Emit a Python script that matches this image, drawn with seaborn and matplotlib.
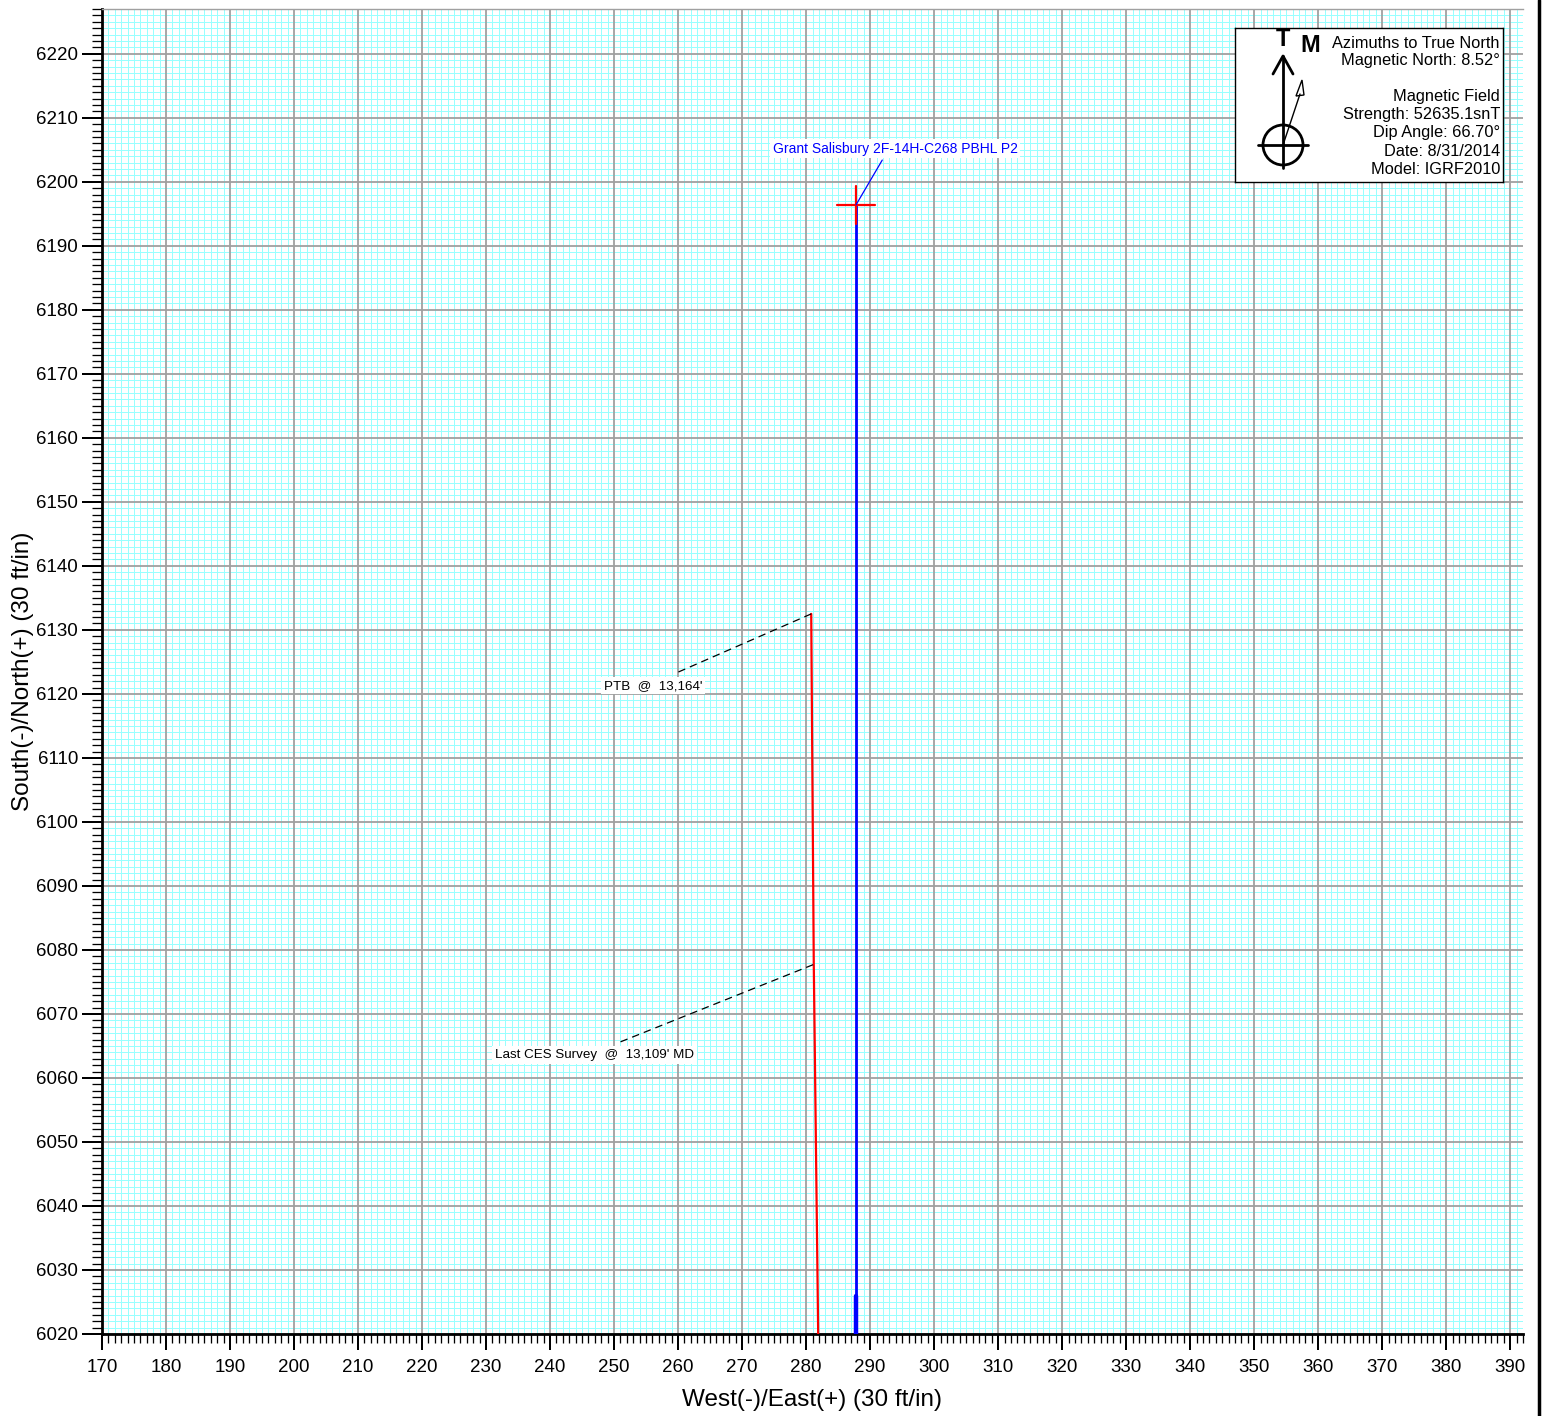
import matplotlib
matplotlib.use("Agg")
import matplotlib.pyplot as plt
import numpy as np
import pandas as pd
import seaborn as sns
from matplotlib.patches import Circle, Polygon
from matplotlib.lines import Line2D
from matplotlib.ticker import MultipleLocator

# Plan view: well paths (East, North) in ft
ACTUAL_E = [280.8, 281.2, 281.9]
ACTUAL_N = [6132.5, 6077.7, 6019.0]
PLAN_E = [287.8, 287.8]
PLAN_N = [6196.4, 6019.0]
PLAN_TAIL_N = [6026.0, 6019.0]
TARGET_E, TARGET_N = 287.8, 6196.4
TARGET_NAME = "Grant Salisbury 2F-14H-C268 PBHL P2"

# annotations: text, label centre (E, N), leader from (E, N) to (E, N)
NOTES = [
    ("PTB  @  13,164'", (256.1, 6121.3), (280.8, 6132.5), (260.0, 6123.4)),
    ("Last CES Survey  @  13,109' MD", (246.9, 6063.6), (281.1, 6077.7), (250.9, 6065.6)),
]

LEGEND_LINES = ["Azimuths to True North", "Magnetic North: 8.52°", "",
                "Magnetic Field", "Strength: 52635.1snT", "Dip Angle: 66.70°",
                "Date: 8/31/2014", "Model: IGRF2010"]

W, H = 1543, 1416
PX = 72 / 100  # points per pixel
sns.set_style("white")
plt.rcParams["font.family"] = ["Liberation Sans", "DejaVu Sans"]
for k in ("text.color", "axes.labelcolor", "xtick.color", "ytick.color"):
    plt.rcParams[k] = "black"

fig = plt.figure(figsize=(W / 100, H / 100), dpi=100)
ax = fig.add_axes([102 / W, 1 - 1334 / H, 1421 / W, 1325 / H])

act = pd.DataFrame({"e": ACTUAL_E, "n": ACTUAL_N})
plan = pd.DataFrame({"e": PLAN_E, "n": PLAN_N})
tail = pd.DataFrame({"e": PLAN_E, "n": PLAN_TAIL_N})
sns.lineplot(data=act, x="e", y="n", sort=False, estimator=None, color="red", lw=1.6, ax=ax, zorder=5)
sns.lineplot(data=plan, x="e", y="n", sort=False, estimator=None, color="blue", lw=2.0, ax=ax, zorder=6)
sns.lineplot(data=tail, x="e", y="n", sort=False, estimator=None, color="blue", lw=3.2, ax=ax, zorder=6)

# target cross
ax.plot([TARGET_E - 3, TARGET_E + 3], [TARGET_N, TARGET_N], color="red", lw=1.6, zorder=7)
ax.plot([TARGET_E, TARGET_E], [TARGET_N - 3, TARGET_N + 3], color="red", lw=1.6, zorder=7)
ax.plot([TARGET_E, 291.9], [TARGET_N, 6203.4], color="blue", lw=0.9, zorder=7)
ax.text(293.9, 6205.2, TARGET_NAME, color="blue", fontsize=10, ha="center", va="center",
        bbox=dict(facecolor="white", edgecolor="none", pad=2), zorder=8)

for txt, (tx, ty), p0, p1 in NOTES:
    ax.plot([p0[0], p1[0]], [p0[1], p1[1]], color="black", lw=0.9, ls=(0, (6, 4)), zorder=7)
    ax.text(tx, ty, txt, color="black", fontsize=9.6, ha="center", va="center",
            bbox=dict(facecolor="white", edgecolor="none", pad=2), zorder=8)

ax.set_xlim(170, 392)
ax.set_ylim(6020, 6227)
ax.xaxis.set_major_locator(MultipleLocator(10))
ax.xaxis.set_minor_locator(MultipleLocator(1))
ax.yaxis.set_major_locator(MultipleLocator(10))
ax.yaxis.set_minor_locator(MultipleLocator(1))
ax.grid(which="minor", color="#99ffff", lw=0.72, antialiased=False)
ax.grid(which="major", visible=False)
ax.set_axisbelow(True)
# gray 10 ft grid drawn above the cyan 1 ft grid
for e in np.arange(170, 392, 10):
    ax.axvline(e, color="#a0a0a0", lw=1.3, zorder=0.8)
for n in np.arange(6020, 6227, 10):
    ax.axhline(n, color="#a0a0a0", lw=1.3, zorder=0.8)

ax.tick_params(axis="x", which="major", length=16 * PX, width=2 * PX, labelsize=13.5,
               pad=9 * PX, direction="out", bottom=True)
ax.tick_params(axis="x", which="minor", length=9 * PX, width=1.3 * PX, direction="out", bottom=True)
ax.tick_params(axis="y", which="major", length=20 * PX, width=2 * PX, labelsize=13.5,
               pad=4 * PX, direction="out", left=True)
ax.tick_params(axis="y", which="minor", length=10 * PX, width=1.3 * PX, direction="out", left=True)
for s in ("left", "bottom"):
    ax.spines[s].set_color("black")
    ax.spines[s].set_linewidth(2)
ax.spines["right"].set_visible(False)
ax.spines["top"].set_color("#a0a0a0")
ax.spines["top"].set_linewidth(1)

ax.set_xlabel("West(-)/East(+) (30 ft/in)", fontsize=17.5)
ax.set_ylabel("South(-)/North(+) (30 ft/in)", fontsize=17.5)
ax.xaxis.set_label_coords(0.5, (1334 - 1389) / 1325)
ax.yaxis.set_label_coords((34 - 102) / 1421, 0.5)

# north arrow / magnetic info box, drawn in local pixel units
lg = fig.add_axes([1235 / W, 1 - 182 / H, 268 / W, 154 / H])
lg.set_xlim(0, 268)
lg.set_ylim(154, 0)
lg.set_xticks([])
lg.set_yticks([])
lg.set_facecolor("white")
for s in lg.spines.values():
    s.set_color("black")
    s.set_linewidth(1)
lg.text(48, 11, "T", fontsize=17, fontweight="bold", ha="center", va="center")
lg.text(75, 17, "M", fontsize=17, fontweight="bold", ha="center", va="center")
lg.add_line(Line2D([48, 48], [140, 28], color="black", lw=2))
lg.add_line(Line2D([38, 48, 58], [46, 28, 46], color="black", lw=2))
lg.add_patch(Circle((48, 117), 20, fill=False, color="black", lw=2))
lg.add_line(Line2D([23, 73], [117, 117], color="black", lw=2))
lg.add_line(Line2D([48, 65], [117, 66], color="black", lw=1))
lg.add_patch(Polygon([[67, 52], [61, 68], [69, 67]], closed=True, fill=False, ec="black", lw=1))
for i, line in enumerate(LEGEND_LINES):
    lg.text(265, 15 + 18 * i, line, fontsize=11.8, ha="right", va="center")

# page border on the right
fig.add_artist(Line2D([1539 / W, 1539 / W], [0, 1], color="black", lw=2.5, transform=fig.transFigure))

fig.savefig("out.png", dpi=100)
